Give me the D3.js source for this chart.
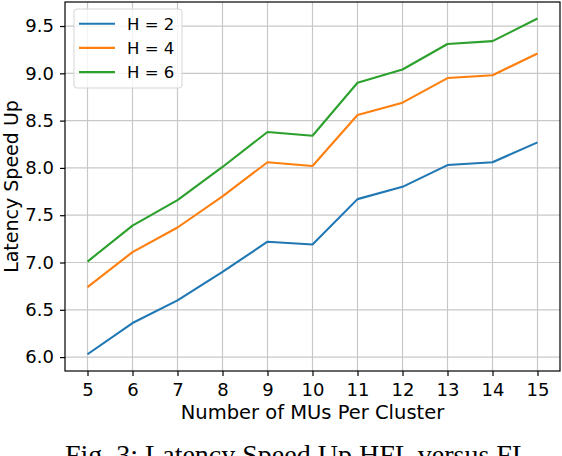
<!DOCTYPE html>
<html>
<head>
<meta charset="utf-8">
<script src="https://cdn.jsdelivr.net/npm/d3@7"></script>
<style>
  body { margin: 0; background: #fff; overflow: hidden; }
  svg { display: block; }
</style>
</head>
<body>
<svg class="chart"></svg>
<script>
// values
var clusterSizes = [5, 6, 7, 8, 9, 10, 11, 12, 13, 14, 15];
var speedH2 = [6.03, 6.36, 6.60, 6.90, 7.22, 7.19, 7.67, 7.80, 8.03, 8.06, 8.27];
var speedH4 = [6.74, 7.11, 7.37, 7.70, 8.06, 8.02, 8.56, 8.69, 8.95, 8.98, 9.21];
var speedH6 = [7.01, 7.39, 7.66, 8.01, 8.38, 8.34, 8.90, 9.04, 9.31, 9.34, 9.58];
var seriesNames = ["H = 2", "H = 4", "H = 6"];
var yTicks = [6.0, 6.5, 7.0, 7.5, 8.0, 8.5, 9.0, 9.5];

var W = 562, H = 456;
var margin = {top: 2, right: 2, bottom: 85, left: 65},
    width  = W - margin.left - margin.right,
    height = H - margin.top - margin.bottom;

var colors = ["#1f77b4", "#ff7f0e", "#2ca02c"];
var series = [speedH2, speedH4, speedH6];

var svg = d3.select("svg.chart")
  .attr("width", W)
  .attr("height", H);

var g = svg.append("g")
  .attr("transform", `translate(${margin.left},${margin.top})`);

var x = d3.scaleLinear().domain([4.5, 15.5]).range([0, width]);
var y = d3.scaleLinear().domain([5.853, 9.754]).range([height, 0]);

// grid
g.append("g").selectAll("line")
  .data(clusterSizes).join("line")
    .attr("x1", d => x(d)).attr("x2", d => x(d))
    .attr("y1", 0).attr("y2", height)
    .attr("stroke", "#c8c8c8").attr("stroke-width", 1.2);
g.append("g").selectAll("line")
  .data(yTicks).join("line")
    .attr("x1", 0).attr("x2", width)
    .attr("y1", d => y(d)).attr("y2", d => y(d))
    .attr("stroke", "#c8c8c8").attr("stroke-width", 1.2);

// lines
var line = d3.line()
  .x((d, i) => x(clusterSizes[i]))
  .y(d => y(d));

g.append("g").selectAll("path")
  .data(series).join("path")
    .attr("d", d => line(d))
    .attr("fill", "none")
    .attr("stroke", (d, i) => colors[i])
    .attr("stroke-width", 2.1)
    .attr("stroke-linejoin", "round");

// frame
g.append("rect")
  .attr("width", width).attr("height", height)
  .attr("fill", "none").attr("stroke", "#000").attr("stroke-width", 1.2);

// axes
var xAxis = g.append("g")
  .attr("transform", `translate(0,${height})`)
  .call(d3.axisBottom(x).tickValues(clusterSizes).tickFormat(d3.format("d")).tickSize(5).tickPadding(7));
var yAxis = g.append("g")
  .call(d3.axisLeft(y).tickValues(yTicks).tickFormat(d3.format(".1f")).tickSize(5).tickPadding(6));

[xAxis, yAxis].forEach(function(a) {
  a.select(".domain").remove();
  a.selectAll(".tick line").attr("stroke", "#000").attr("stroke-width", 1.2);
  a.selectAll(".tick text")
    .attr("fill", "#000")
    .style("font-family", "DejaVu Sans")
    .style("font-size", "18px");
});

// axis labels
svg.append("text")
  .attr("x", margin.left + width / 2)
  .attr("y", 419)
  .attr("text-anchor", "middle")
  .style("font-family", "DejaVu Sans")
  .style("font-size", "19.5px")
  .text("Number of MUs Per Cluster");

svg.append("text")
  .attr("transform", `translate(18,${margin.top + height / 2}) rotate(-90)`)
  .attr("text-anchor", "middle")
  .style("font-family", "DejaVu Sans")
  .style("font-size", "19px")
  .text("Latency Speed Up");

// legend
var legend = g.append("g").attr("transform", "translate(9,7)");
legend.append("rect")
  .attr("width", 108).attr("height", 79).attr("rx", 3)
  .attr("fill", "#fff").attr("fill-opacity", 0.8)
  .attr("stroke", "#d5d5d5");
var items = legend.selectAll("g.item")
  .data(seriesNames).join("g")
    .attr("class", "item")
    .attr("transform", (d, i) => `translate(0,${14.7 + i * 24.2})`);
items.append("line")
  .attr("x1", 5).attr("x2", 41)
  .attr("stroke", (d, i) => colors[i]).attr("stroke-width", 2.1);
items.append("text")
  .attr("x", 53).attr("dy", "0.36em")
  .style("font-family", "DejaVu Sans")
  .style("font-size", "16.5px")
  .text(d => d);

// caption (cut by the bottom edge, as in the reference)
svg.append("text")
  .attr("x", 297)
  .attr("y", 464)
  .attr("text-anchor", "middle")
  .style("font-family", "Liberation Serif")
  .style("font-size", "28px")
  .text("Fig. 3: Latency Speed Up HFL versus FL");
</script>
</body>
</html>
